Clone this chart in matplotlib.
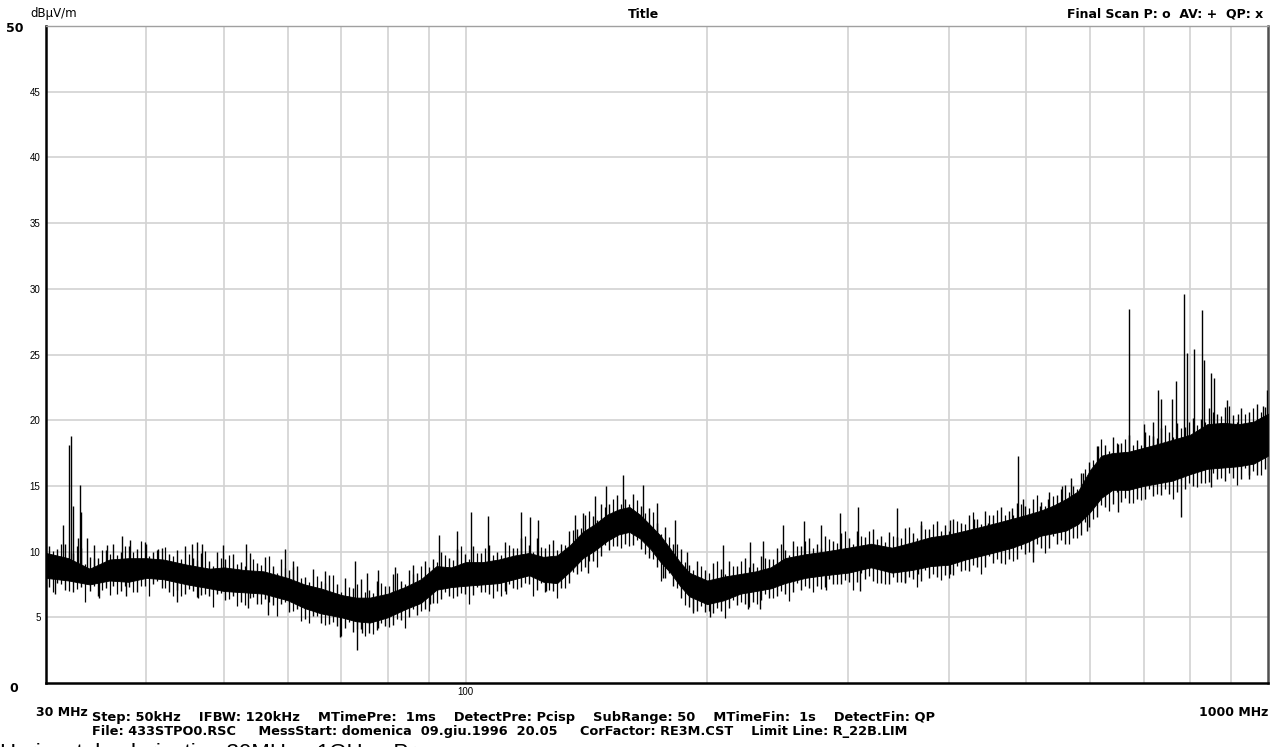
import numpy as np
import matplotlib
matplotlib.use("Agg")
import matplotlib.pyplot as plt

# ---------------- data ----------------
# dense body of the trace: lower / upper edge
band_freq = [30, 32, 34, 36, 38, 40, 42, 45, 48, 50, 53, 56, 60, 63, 66, 70, 73, 76, 80, 84, 88,
             92, 96, 100, 105, 110, 115, 120, 125, 130, 135, 140, 145, 150, 155, 160, 165, 170,
             175, 180, 185, 190, 200, 210, 220, 230, 240, 250, 265, 280, 300, 320, 340, 360, 380,
             400, 420, 440, 460, 480, 500, 520, 540, 560, 580, 600, 620, 640, 670, 700, 730, 760,
             800, 840, 880, 920, 960, 1000]
band_high = [9.9, 9.5, 8.7, 9.4, 9.5, 9.5, 9.4, 9.0, 8.7, 8.8, 8.6, 8.5, 8.0, 7.5, 7.2, 6.7, 6.5, 6.5, 6.8, 7.3, 7.9,
             8.9, 8.8, 9.2, 9.2, 9.4, 9.7, 9.9, 9.6, 9.7, 10.5, 11.5, 12.1, 12.8, 13.2, 13.4, 12.8, 12.0,
             11.2, 10.2, 9.2, 8.4, 7.8, 8.1, 8.3, 8.5, 8.8, 9.5, 9.8, 10.0, 10.3, 10.6, 10.3, 10.7, 11.1,
             11.3, 11.6, 11.9, 12.2, 12.5, 12.8, 13.1, 13.5, 14.0, 14.6, 16.2, 17.3, 17.5, 17.6, 17.9, 18.2, 18.5,
             18.9, 19.7, 19.8, 19.7, 19.9, 20.5]
band_low = [8.0, 7.8, 7.5, 7.8, 7.7, 8.0, 7.9, 7.5, 7.2, 7.0, 6.9, 6.8, 6.3, 5.7, 5.3, 5.0, 4.7, 4.6, 5.0, 5.6, 6.1,
            7.1, 7.3, 7.4, 7.5, 7.6, 7.9, 8.2, 7.7, 7.6, 8.5, 9.5, 10.1, 10.8, 11.3, 11.5, 11.0, 10.2,
            9.2, 8.4, 7.4, 6.6, 6.0, 6.3, 6.8, 7.0, 7.2, 7.6, 8.0, 8.2, 8.4, 8.8, 8.4, 8.6, 8.9,
            9.0, 9.4, 9.7, 10.0, 10.3, 10.7, 11.2, 11.4, 11.6, 12.1, 13.0, 14.1, 14.7, 14.7, 15.0, 15.2, 15.4,
            15.9, 16.3, 16.4, 16.5, 16.7, 17.3]

# noise strokes around the body, first set (frequency, stroke top, stroke bottom)
fuzz_freq = [30.3, 31.0, 31.7, 32.4, 33.2, 34.0, 34.8, 35.6, 36.4, 37.2, 38.1, 39.0, 39.9, 40.8, 41.8,
             42.7, 43.7, 44.7, 45.8, 46.8, 47.9, 49.0, 50.2, 51.3, 52.5, 53.8, 55.0, 56.3, 57.6, 58.9,
             60.3, 61.7, 63.1, 64.6, 66.1, 67.6, 69.2, 70.8, 72.4, 74.1, 75.8, 77.6, 79.4, 81.2, 83.1,
             85.0, 87.0, 89.0, 91.1, 93.2, 95.4, 97.6, 99.9, 102.2, 104.6, 107.0, 109.5, 112.0, 114.6,
             117.3, 120.0, 122.8, 125.6, 128.5, 131.5, 134.6, 137.7, 140.9, 144.2, 147.5, 150.9, 154.4,
             158.0, 161.7, 165.4, 169.3, 173.2, 177.2, 181.3, 185.5, 189.8, 194.2, 198.7, 203.3, 208.0,
             212.9, 217.8, 222.9, 228.1, 233.4, 238.8, 244.3, 250.0, 255.8, 261.7, 267.8, 274.0, 280.4,
             286.9, 293.6, 300.4, 307.3, 314.5, 321.8, 329.2, 336.9, 344.7, 352.7, 360.9, 369.3, 377.8,
             386.6, 395.6, 404.8, 414.2, 423.8, 433.6, 443.7, 454.0, 464.5, 475.3, 486.3, 497.6, 509.2,
             521.0, 533.1, 545.5, 558.1, 571.1, 584.3, 597.9, 611.8, 626.0, 640.5, 655.4, 670.6, 686.2,
             702.1, 718.4, 735.1, 752.2, 769.6, 787.5, 805.8, 824.5, 843.6, 863.2, 883.2, 903.7, 924.7,
             946.2, 968.1, 990.6]
fuzz_top = [10.4, 10.2, 10.6, 9.9, 10.3, 9.6, 9.5, 10.1, 10.6, 10.0, 10.4, 10.2, 10.7, 10.0, 10.3,
            9.8, 10.1, 10.4, 9.5, 9.9, 9.3, 10.0, 9.4, 9.8, 9.2, 9.9, 9.1, 9.6, 8.9, 9.4,
            8.6, 8.9, 8.1, 8.7, 7.8, 8.2, 7.5, 8.0, 7.2, 7.9, 7.1, 7.8, 7.4, 8.3, 7.8,
            8.6, 8.4, 9.3, 9.4, 10.0, 9.5, 10.2, 9.8, 10.4, 9.9, 10.5, 10.0, 10.7, 10.3,
            11.0, 10.5, 11.0, 10.3, 10.9, 10.6, 11.6, 11.7, 12.8, 12.7, 13.6, 13.6, 14.3,
            14.0, 14.4, 13.5, 13.3, 12.2, 11.9, 10.6, 10.2, 9.0, 9.3, 8.6, 9.1, 8.7,
            9.3, 8.9, 9.5, 9.1, 9.7, 9.4, 10.3, 10.1, 10.8, 10.4, 11.0, 10.6, 11.2,
            10.8, 11.4, 11.0, 11.6, 11.1, 11.7, 11.2, 11.5, 11.1, 11.8, 11.4, 12.0, 11.7,
            12.3, 12.0, 12.5, 12.2, 12.8, 12.5, 13.1, 12.8, 13.4, 13.1, 13.7, 13.5, 14.0,
            13.8, 14.5, 14.3, 15.1, 15.0, 16.0, 16.8, 18.0, 18.1, 18.7, 18.3, 18.9, 18.5,
            19.1, 18.8, 19.4, 19.1, 19.8, 19.5, 20.2, 20.1, 20.9, 20.5, 21.0, 20.4, 20.9,
            20.6, 21.2, 21.0]
fuzz_bottom = [7.3, 7.6, 7.1, 6.9, 7.3, 7.0, 6.6, 7.2, 7.4, 7.0, 7.3, 6.9, 7.4, 7.5, 7.2,
               6.9, 7.1, 6.8, 7.0, 6.7, 6.6, 6.8, 6.3, 6.6, 6.2, 6.5, 6.0, 6.4, 5.9, 6.0,
               5.4, 5.6, 4.9, 5.1, 4.6, 4.5, 4.3, 4.2, 3.9, 4.1, 3.8, 4.0, 4.3, 4.4, 4.8,
               5.0, 5.2, 5.6, 6.1, 6.4, 6.6, 6.6, 6.8, 6.7, 6.9, 6.8, 7.0, 7.0, 7.2,
               7.3, 7.5, 7.1, 6.9, 7.0, 7.2, 7.6, 8.3, 8.8, 9.3, 9.7, 10.1, 10.4,
               10.6, 10.5, 10.2, 9.5, 8.8, 8.0, 7.4, 6.5, 5.8, 5.5, 5.4, 5.3, 5.5,
               5.7, 5.9, 6.0, 6.2, 6.3, 6.5, 6.6, 6.8, 6.9, 7.1, 7.2, 7.4, 7.3,
               7.5, 7.5, 7.7, 7.7, 7.9, 7.8, 7.6, 7.5, 7.7, 7.6, 7.9, 7.8, 8.0,
               8.1, 8.2, 8.2, 8.5, 8.5, 8.8, 8.8, 9.1, 9.1, 9.4, 9.4, 9.8, 9.9,
               10.3, 10.3, 10.6, 10.6, 11.0, 11.3, 11.9, 12.6, 13.4, 13.6, 13.8, 13.7, 14.0,
               14.0, 14.2, 14.3, 14.4, 14.5, 14.8, 15.0, 15.2, 15.3, 15.5, 15.4, 15.6, 15.5,
               15.8, 15.8, 16.3]

# noise strokes, second set (between the first ones)
fuzz2_freq = [30.65, 31.35, 32.05, 32.8, 33.6, 34.4, 35.2, 36.0, 36.8, 37.65, 38.55, 39.45, 40.35, 41.3,
              42.25, 43.2, 44.2, 45.25, 46.3, 47.35, 48.45, 49.6, 50.75, 51.9, 53.15, 54.4, 55.65, 56.95,
              58.25, 59.6, 61.0, 62.4, 63.85, 65.35, 66.85, 68.4, 70.0, 71.6, 73.25, 74.95, 76.7, 78.5,
              80.3, 82.15, 84.05, 86.0, 88.0, 90.05, 92.15, 94.3, 96.5, 98.75, 101.05, 103.4, 105.8,
              108.25, 110.75, 113.3, 115.95, 118.65, 121.4, 124.2, 127.05, 130.0, 133.05, 136.15, 139.3,
              142.55, 145.85, 149.2, 152.65, 156.2, 159.85, 163.55, 167.35, 171.25, 175.2, 179.25, 183.4,
              187.65, 192.0, 196.45, 201.0, 205.65, 210.45, 215.35, 220.35, 225.5, 230.75, 236.1, 241.55,
              247.15, 252.9, 258.75, 264.75, 270.9, 277.2, 283.65, 290.25, 297.0, 303.85, 310.9, 318.15,
              325.5, 333.05, 340.8, 348.7, 356.8, 365.1, 373.55, 382.2, 391.1, 400.2, 409.5, 419.0,
              428.7, 438.65, 448.85, 459.25, 469.9, 480.8, 491.95, 503.4, 515.1, 527.05, 539.3, 551.8,
              564.6, 577.7, 591.1, 604.85, 618.9, 633.25, 647.95, 663.0, 678.4, 694.15, 710.25, 726.75,
              743.65, 760.9, 778.55, 796.65, 815.15, 834.05, 853.4, 873.2, 893.45, 914.2, 935.45,
              957.15, 979.35]
fuzz2_top = [10.05, 10.55, 10.0, 10.45, 9.05, 9.55, 10.15, 9.8, 9.75, 10.4, 10.0, 10.8, 9.7, 10.15,
             10.35, 9.65, 9.4, 9.85, 9.35, 10.05, 8.9, 9.5, 9.75, 9.05, 8.9, 9.45, 9.0, 9.7,
             8.4, 8.75, 8.85, 8.0, 7.7, 8.15, 7.6, 8.2, 6.9, 7.3, 7.5, 6.9, 6.85, 7.6,
             7.35, 8.4, 7.5, 8.3, 8.9, 8.8, 9.2, 9.75, 9.35, 10.4, 9.4, 9.9, 10.25,
             9.75, 9.75, 10.5, 10.25, 11.15, 10.0, 10.35, 10.6, 10.1, 10.5, 11.65, 11.8,
             13.1, 12.4, 13.4, 14.0, 13.65, 13.65, 13.9, 12.95, 13.05, 11.35, 11.1, 10.6,
             9.2, 8.6, 8.9, 8.35, 9.25, 8.3, 8.9, 9.3, 8.8, 8.8, 9.55, 9.4,
             10.6, 9.75, 10.4, 10.8, 10.25, 10.25, 10.95, 10.65, 11.55, 10.55, 11.15, 11.55,
             10.95, 10.7, 11.2, 11.0, 11.9, 11.0, 11.7, 12.1, 11.6, 11.6, 12.35, 12.1,
             13.05, 12.1, 12.75, 13.2, 12.75, 12.8, 13.6, 13.35, 14.3, 13.45, 14.2, 14.8,
             14.55, 14.8, 16.3, 16.95, 18.55, 17.65, 18.25, 18.6, 18.1, 18.15, 18.9, 18.65,
             19.65, 18.7, 19.4, 19.85, 19.6, 19.9, 20.6, 20.3, 21.1, 19.9, 20.45,
             20.9, 20.6]
fuzz2_bottom = [6.95, 7.55, 7.0, 7.15, 6.15, 7.35, 7.05, 6.7, 6.75, 7.4, 6.95, 7.4, 6.6, 7.75,
                7.25, 6.65, 6.6, 7.15, 6.55, 6.75, 5.75, 6.85, 6.4, 5.85, 5.9, 6.55, 6.0, 6.2,
                5.1, 6.15, 5.5, 4.75, 4.6, 5.1, 4.45, 4.65, 3.6, 4.65, 4.1, 3.55, 3.7, 4.6,
                4.25, 4.85, 4.2, 5.65, 5.5, 5.5, 6.1, 6.9, 6.5, 6.85, 6.0, 7.3, 6.9,
                6.5, 6.65, 7.5, 7.15, 7.6, 6.65, 7.6, 7.1, 6.5, 7.2, 8.45, 8.5,
                9.3, 8.8, 10.5, 10.45, 10.25, 10.45, 10.85, 9.8, 9.4, 7.75, 8.35, 7.2,
                5.9, 5.5, 5.85, 5.45, 5.7, 4.95, 6.35, 6.2, 5.8, 6.0, 6.8, 6.45,
                7.0, 6.25, 7.6, 7.4, 6.95, 7.15, 7.95, 7.5, 7.85, 7.05, 8.4, 8.15,
                7.6, 7.5, 8.1, 7.7, 8.05, 7.3, 8.6, 8.3, 7.85, 8.0, 8.9, 8.6,
                9.0, 8.3, 9.65, 9.4, 9.05, 9.3, 10.2, 10.0, 10.55, 9.9, 11.2, 10.9,
                10.6, 11.0, 12.25, 12.45, 13.55, 13.1, 14.5, 14.1, 13.7, 13.95, 14.75, 14.4,
                14.8, 14.0, 15.45, 15.25, 14.95, 15.25, 16.0, 15.6, 15.95, 15.1, 16.35,
                16.1, 15.85]

# isolated tall spikes above / below the body
spike_up_freq = [31.5, 32.05, 32.2, 32.4, 32.9, 33.1, 33.2, 33.7, 34.4, 35.7, 37.3, 38.2, 40.0, 41.4,
                 45.6, 46.3, 47.0, 49.9, 53.3, 59.6, 61.0, 66.8, 72.8, 75.4, 77.8, 81.6, 86.0,
                 92.7, 97.6, 101.6, 106.6, 117.2, 120.3, 123.2, 136.9, 140.1, 145.0, 149.6, 157.1,
                 166.4, 173.2, 182.4, 189.0, 209.5, 226.3, 234.9, 248.8, 263.8, 277.4, 292.6, 308.0,
                 345, 369, 401, 430, 448, 480, 488, 495, 520, 532, 554, 568, 588, 614, 650, 671,
                 700, 719, 729, 736, 760, 769, 786, 792, 809, 828, 833, 848, 857, 888, 918, 985, 998]
spike_up_top = [12.0, 18.1, 18.8, 13.5, 11.0, 15.1, 13.0, 11.0, 10.5, 10.5, 11.2, 10.9, 10.6, 10.2,
                10.6, 10.7, 10.6, 10.5, 10.6, 10.2, 9.3, 8.5, 9.3, 8.4, 8.6, 8.8, 9.0,
                11.3, 11.6, 13.0, 12.7, 13.0, 12.6, 12.4, 12.8, 12.9, 14.2, 15.0, 15.8,
                15.1, 13.7, 12.4, 10.0, 10.5, 10.7, 10.8, 12.0, 12.3, 12.0, 12.9, 13.4,
                13.3, 12.3, 12.4, 12.5, 12.2, 13.3, 17.3, 14.0, 13.5, 14.0, 15.0, 15.6, 16.0, 18.0, 18.2, 28.5,
                19.7, 19.9, 22.3, 21.6, 21.6, 23.0, 29.6, 25.1, 25.4, 28.4, 24.6, 23.6, 23.2, 21.5, 20.5, 21.1, 22.3]

spike_down_freq = [30.8, 34.9, 37.7, 43.7, 46.4, 53.6, 56.8, 69.8, 73.2, 74.3, 77.8,
                   90.2, 112.2, 125.8, 142.1, 176.0, 192.0, 201.7, 224.9, 232.9, 281.6, 309.8,
                   353, 366, 401, 509, 595, 650, 779, 850, 947]
spike_down_bottom = [6.8, 6.5, 6.6, 6.2, 6.5, 5.7, 5.2, 3.5, 2.5, 3.8, 4.2,
                     6.0, 6.8, 7.0, 8.4, 8.0, 5.3, 5.0, 5.6, 5.6, 7.1, 7.0,
                     7.7, 8.3, 8.3, 9.2, 11.6, 13.0, 12.6, 14.9, 15.5]

grid_freq = [40, 50, 60, 70, 80, 90, 100, 200, 300, 400, 500, 600, 700, 800, 900]
y_ticks = [5, 10, 15, 20, 25, 30, 35, 40, 45]

info_line1 = ("Step: 50kHz    IFBW: 120kHz    MTimePre:  1ms    DetectPre: Pcisp    "
              "SubRange: 50    MTimeFin:  1s    DetectFin: QP")
info_line2 = ("File: 433STPO0.RSC     MessStart: domenica  09.giu.1996  20.05     "
              "CorFactor: RE3M.CST    Limit Line: R_22B.LIM")
caption = "Horizontal polarization 30MHz - 1GHz - Prescan"

# ---------------- figure ----------------
W, H = 1288, 747
fig = plt.figure(figsize=(W / 100, H / 100), dpi=100)
ax = fig.add_axes([46 / W, 1 - 683 / H, (1268 - 46) / W, (683 - 26) / H])

narrow = ['Liberation Sans Narrow', 'DejaVu Sans']
plain = ['Liberation Sans', 'DejaVu Sans']

bf = np.array(band_freq, float)
bh = np.array(band_high, float)
bl = np.array(band_low, float)
mid = (bh + bl) / 2

ax.fill_between(bf, bl, bh, color='black', lw=0.6, zorder=3)
ax.vlines(fuzz_freq, fuzz_bottom, fuzz_top, color='black', lw=1.0, zorder=3)
ax.vlines(fuzz2_freq, fuzz2_bottom, fuzz2_top, color='black', lw=0.9, zorder=3)

su_f = np.array(spike_up_freq, float)
su_base = np.interp(np.log10(su_f), np.log10(bf), mid)
ax.vlines(su_f, su_base, spike_up_top, color='black', lw=1.0, zorder=3)

sd_f = np.array(spike_down_freq, float)
sd_base = np.interp(np.log10(sd_f), np.log10(bf), mid)
ax.vlines(sd_f, spike_down_bottom, sd_base, color='black', lw=1.0, zorder=3)

ax.set_xscale('log')
ax.set_xlim(30, 1000)
ax.set_ylim(0, 50)

ax.set_xticks(grid_freq)
ax.set_xticklabels(['100' if f == 100 else '' for f in grid_freq], fontsize=7, family=plain)
ax.xaxis.set_minor_locator(matplotlib.ticker.NullLocator())
ax.set_yticks(y_ticks)
ax.set_yticklabels([str(v) for v in y_ticks], fontsize=7, family=plain)
ax.tick_params(length=0, pad=4)
ax.tick_params(axis='x', pad=3)
ax.grid(True, color='#d2d2d2', lw=1.2, zorder=0)
ax.set_axisbelow(True)

for s in ('left', 'bottom'):
    ax.spines[s].set_color('black')
    ax.spines[s].set_linewidth(1.8)
ax.spines['top'].set_color('#a0a0a0')
ax.spines['top'].set_linewidth(1.0)
ax.spines['right'].set_color('#505050')
ax.spines['right'].set_linewidth(1.8)


def px(x, y):
    return x / W, 1 - y / H


fig.text(*px(30, 14), 'dBµV/m', fontsize=8.5, family=narrow, va='center', ha='left')
fig.text(*px(15, 28), '50', fontsize=9, family=narrow, weight='bold', va='center', ha='center')
fig.text(*px(14, 688), '0', fontsize=9, family=narrow, weight='bold', va='center', ha='center')
fig.text(*px(643, 14), 'Title', fontsize=9, family=narrow, weight='bold', va='center', ha='center')
fig.text(*px(1263, 14), 'Final Scan P: o  AV: +  QP: x', fontsize=9, family=narrow,
         weight='bold', va='center', ha='right')
fig.text(*px(36, 713), '30 MHz', fontsize=9, family=narrow, weight='bold', va='center', ha='left')
fig.text(*px(1268, 713), '1000 MHz', fontsize=9, family=narrow, weight='bold', va='center', ha='right')
fig.text(*px(92, 718), info_line1, fontsize=9.4, family=narrow, weight='bold', va='center', ha='left')
fig.text(*px(92, 731), info_line2, fontsize=9.3, family=narrow, weight='bold', va='center', ha='left')
fig.text(*px(0, 743), caption, fontsize=16, family=plain, va='top', ha='left')

fig.savefig('out.png', dpi=100)
